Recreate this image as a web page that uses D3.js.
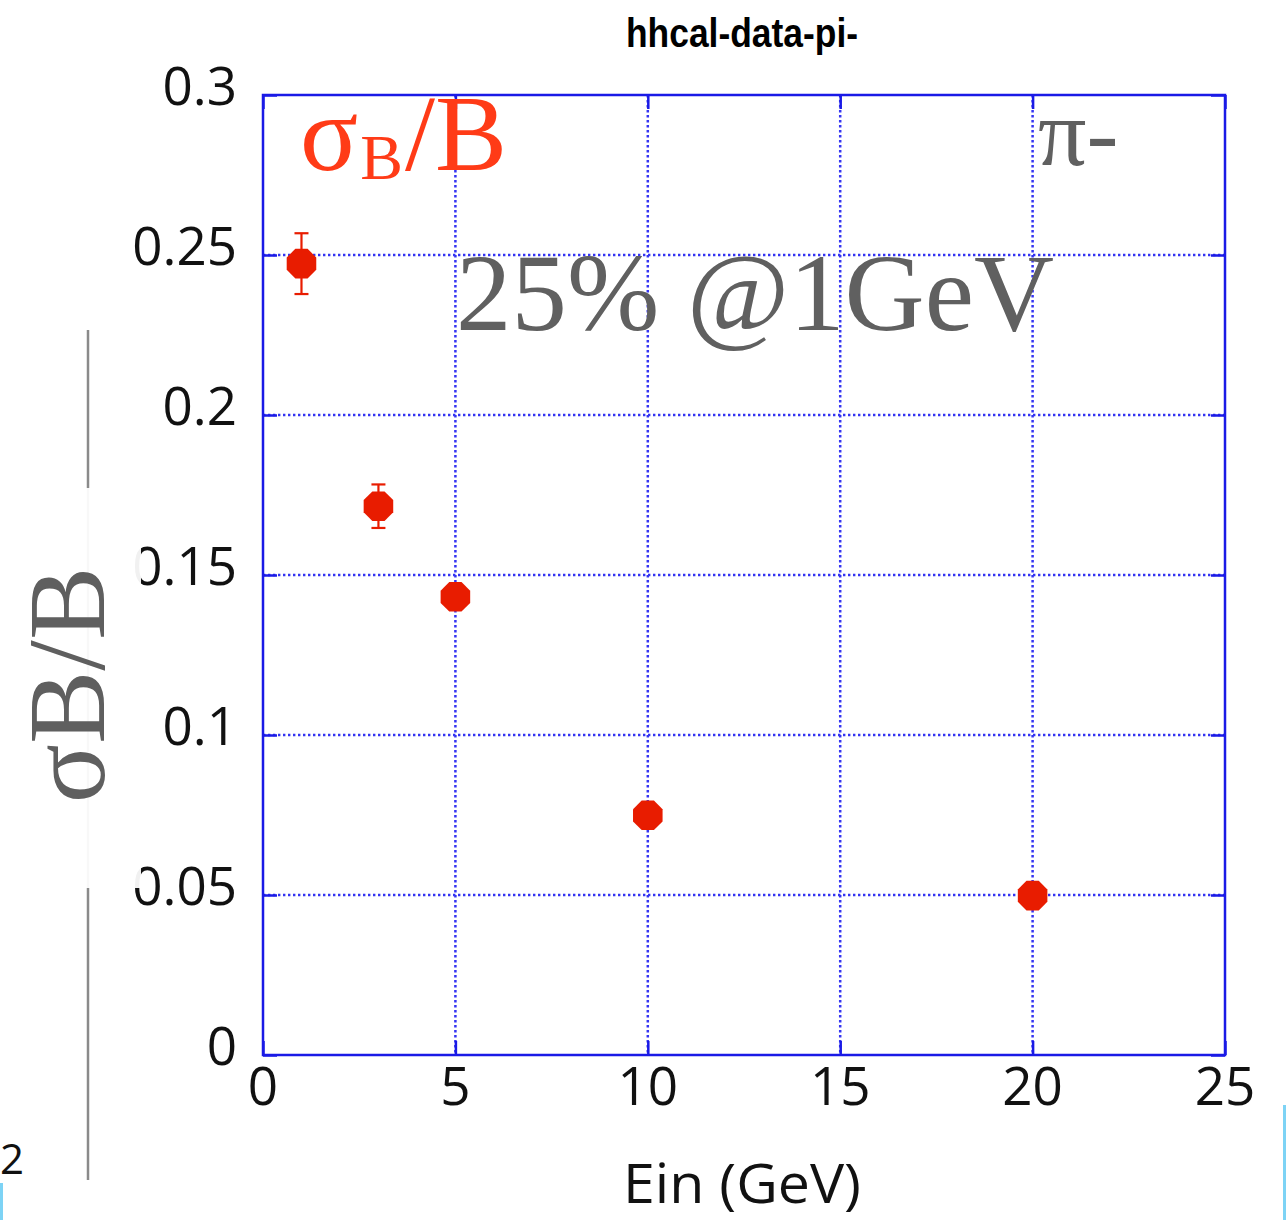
<!DOCTYPE html>
<html>
<head>
<meta charset="utf-8">
<script src="https://cdn.jsdelivr.net/npm/d3@7"></script>
<style>
  html, body { margin: 0; padding: 0; background: #fff; }
  svg { display: block; }
</style>
</head>
<body>
<svg id="chart" width="1286" height="1220"></svg>
<script>
// Beam energy (GeV) and relative resolution sigma_B / B for pi- data
const energies   = [1, 3, 5, 10, 20];
const resolution = [0.2473, 0.1715, 0.1432, 0.0749, 0.0498];
const resErrors  = [0.0095, 0.0068, 0.0030, 0.0020, 0.0015];

const xTicks = [0, 5, 10, 15, 20, 25];
const yTicks = [0, 0.05, 0.1, 0.15, 0.2, 0.25, 0.3];
const xTickLabels = ["0", "5", "10", "15", "20", "25"];
const yTickLabels = ["0", "0.05", "0.1", "0.15", "0.2", "0.25", "0.3"];

const svg = d3.select("#chart");
const W = 1286, H = 1220;
const margin = { left: 263, top: 95, right: 61, bottom: 165 };
const pw = W - margin.left - margin.right;
const ph = H - margin.top - margin.bottom;

const x = d3.scaleLinear().domain([0, 25]).range([0, pw]);
const y = d3.scaleLinear().domain([0, 0.3]).range([ph, 0]);

const blue = "#1a1ae6";
const gridBlue = "#3434f2";
const red = "#e81c00";

// slide decorations around the plot
svg.append("line")
  .attr("x1", 88).attr("x2", 88).attr("y1", 330).attr("y2", 1180)
  .attr("stroke", "#8a8a8a").attr("stroke-width", 2.5);
svg.append("text")
  .attr("x", 0).attr("y", 1174)
  .attr("font-family", "'Open Sans', sans-serif").attr("font-size", 42)
  .attr("fill", "#111").text("2");
svg.append("rect").attr("x", 0).attr("y", 1183).attr("width", 3).attr("height", 37).attr("fill", "#7dd3f5");
svg.append("rect").attr("x", 1283).attr("y", 1105).attr("width", 3).attr("height", 115).attr("fill", "#7dd3f5");

const g = svg.append("g").attr("transform", `translate(${margin.left},${margin.top})`);

// dotted grid
g.append("g").selectAll("line").data(xTicks.filter(t => t > 0 && t < 25)).join("line")
  .attr("x1", d => x(d)).attr("x2", d => x(d)).attr("y1", 0).attr("y2", ph)
  .attr("stroke", gridBlue).attr("stroke-width", 2.5).attr("stroke-dasharray", "2.4,2.6");
g.append("g").selectAll("line").data(yTicks.filter(t => t > 0 && t < 0.3)).join("line")
  .attr("y1", d => y(d)).attr("y2", d => y(d)).attr("x1", 0).attr("x2", pw)
  .attr("stroke", gridBlue).attr("stroke-width", 2.5).attr("stroke-dasharray", "2.4,2.6");

// axes with inward ticks on all four sides
const tickLen = 14;
const axisStyle = sel => {
  sel.select(".domain").remove();
  sel.selectAll(".tick line").attr("stroke", blue).attr("stroke-width", 2.5);
  sel.selectAll(".tick text").remove();
};
g.append("g").attr("transform", `translate(0,${ph})`)
  .call(d3.axisBottom(x).tickValues(xTicks).tickSize(-tickLen)).call(axisStyle);
g.append("g")
  .call(d3.axisTop(x).tickValues(xTicks).tickSize(-tickLen)).call(axisStyle);
g.append("g")
  .call(d3.axisLeft(y).tickValues(yTicks).tickSize(-tickLen)).call(axisStyle);
g.append("g").attr("transform", `translate(${pw},0)`)
  .call(d3.axisRight(y).tickValues(yTicks).tickSize(-tickLen)).call(axisStyle);

g.append("rect").attr("width", pw).attr("height", ph)
  .attr("fill", "none").attr("stroke", blue).attr("stroke-width", 2.5);

// tick labels
const tickFont = "'Open Sans', 'DejaVu Sans', sans-serif";
g.append("g").selectAll("text").data(xTicks).join("text")
  .attr("x", d => x(d)).attr("y", ph + 50)
  .attr("text-anchor", "middle").attr("font-family", tickFont).attr("font-size", 53)
  .attr("fill", "#111").text((d, i) => xTickLabels[i]);
g.append("g").selectAll("text").data(yTicks).join("text")
  .attr("x", -26).attr("y", d => y(d) + 10)
  .attr("text-anchor", "end").attr("font-family", tickFont).attr("font-size", 53)
  .attr("fill", "#111").text((d, i) => yTickLabels[i]);

// axis label box and rotated y label
svg.append("rect").attr("x", 0).attr("y", 488).attr("width", 141).attr("height", 400)
  .attr("fill", "#fff").attr("fill-opacity", 0.94);
svg.append("text")
  .attr("transform", "translate(104,685) rotate(-90)")
  .attr("text-anchor", "middle")
  .attr("font-family", "'Liberation Serif', 'Times New Roman', serif").attr("font-size", 110)
  .attr("fill", "#5f5f5f").text("σB/B");

// x label
svg.append("text")
  .attr("x", 742).attr("y", 1203).attr("text-anchor", "middle")
  .attr("font-family", tickFont).attr("font-size", 54)
  .attr("textLength", 238).attr("lengthAdjust", "spacingAndGlyphs")
  .attr("fill", "#111").text("Ein (GeV)");

// title
svg.append("text")
  .attr("x", 742).attr("y", 47).attr("text-anchor", "middle")
  .attr("font-family", "'Liberation Sans Narrow', 'Liberation Sans', Arial, sans-serif")
  .attr("font-weight", "bold").attr("font-size", 40)
  .attr("textLength", 232).attr("lengthAdjust", "spacingAndGlyphs")
  .attr("fill", "#000").text("hhcal-data-pi-");

// annotations inside the frame
const serif = "'Liberation Serif', 'Times New Roman', serif";
const lbl = svg.append("text")
  .attr("x", 300).attr("y", 170)
  .attr("font-family", serif).attr("font-size", 108).attr("fill", "#ff3b17");
lbl.append("tspan").text("σ");
lbl.append("tspan").attr("font-size", 64).attr("dy", 9).attr("dx", 2).text("B");
lbl.append("tspan").attr("dy", -9).attr("dx", 2).text("/B");

svg.append("text")
  .attr("x", 1038).attr("y", 165)
  .attr("font-family", serif).attr("font-size", 96).attr("fill", "#606060")
  .text("π-");

svg.append("text")
  .attr("x", 456).attr("y", 330)
  .attr("font-family", serif).attr("font-size", 110).attr("fill", "#606060")
  .attr("textLength", 598).attr("lengthAdjust", "spacingAndGlyphs")
  .text("25% @1GeV");

// error bars
const capHalf = 7;
const eb = g.append("g").attr("stroke", red).attr("stroke-width", 2.2);
energies.forEach((e, i) => {
  const cx = x(e), yHi = y(resolution[i] + resErrors[i]), yLo = y(resolution[i] - resErrors[i]);
  eb.append("line").attr("x1", cx).attr("x2", cx).attr("y1", yHi).attr("y2", yLo);
  eb.append("line").attr("x1", cx - capHalf).attr("x2", cx + capHalf).attr("y1", yHi).attr("y2", yHi);
  eb.append("line").attr("x1", cx - capHalf).attr("x2", cx + capHalf).attr("y1", yLo).attr("y2", yLo);
});

// octagonal markers
const octagon = {
  draw(ctx, size) {
    const r = Math.sqrt(size / (2 * Math.SQRT2));
    for (let k = 0; k < 8; k++) {
      const a = Math.PI / 8 + k * Math.PI / 4;
      const px = r * Math.cos(a), py = r * Math.sin(a);
      if (k === 0) ctx.moveTo(px, py); else ctx.lineTo(px, py);
    }
    ctx.closePath();
  }
};
const markerR = 16;
g.append("g").selectAll("path").data(energies).join("path")
  .attr("transform", (d, i) => `translate(${x(d)},${y(resolution[i])})`)
  .attr("d", d3.symbol().type(octagon).size(2 * Math.SQRT2 * markerR * markerR))
  .attr("fill", red);
</script>
</body>
</html>
